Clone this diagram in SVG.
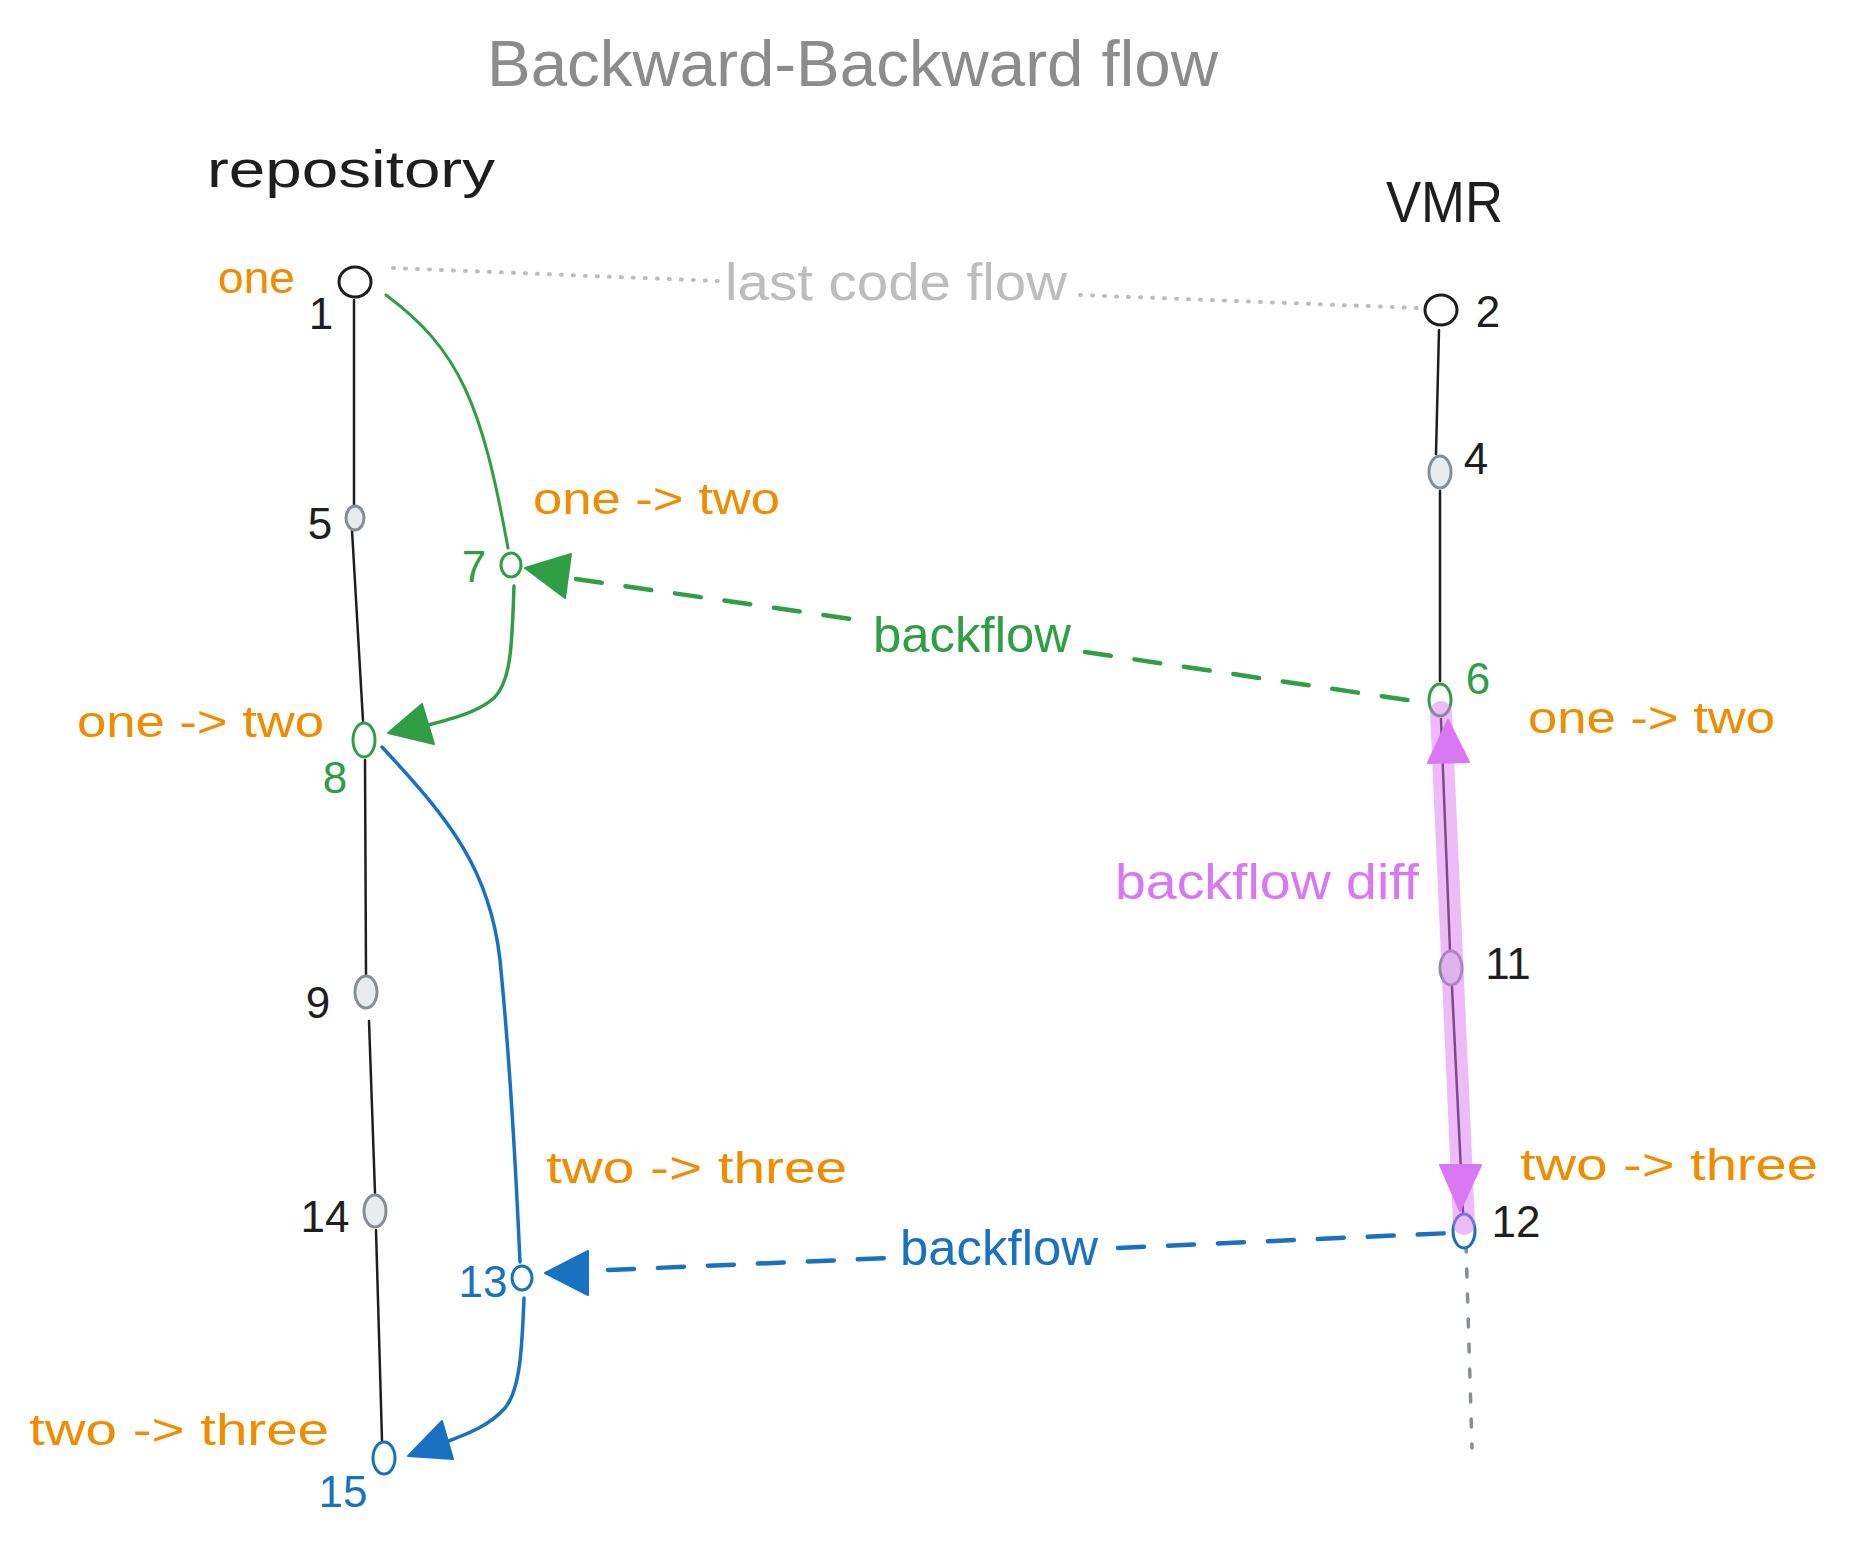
<svg xmlns="http://www.w3.org/2000/svg" width="1849" height="1550" viewBox="0 0 1849 1550">
<style>
text{font-family:"Liberation Sans","DejaVu Sans",sans-serif;}
.t{fill:#1e1e1e;}
.o{fill:#f08c00;font-size:44px;}
.g{fill:#2f9e44;}
.b{fill:#1971c2;}
.m{fill:#da77f2;}
.num{font-size:44px;text-anchor:middle;}
.trunk{stroke:#1e1e1e;stroke-width:2.5;fill:none;stroke-linecap:round;}
.nW{fill:#ffffff;stroke:#1e1e1e;stroke-width:3;}
.nG{fill:#e9ecef;stroke:#868e96;stroke-width:3;}
.nGr{fill:#ffffff;stroke:#2f9e44;stroke-width:3;}
.nB{fill:#ffffff;stroke:#1971c2;stroke-width:3;}
</style>
<rect width="1849" height="1550" fill="#ffffff"/>

<g id="title">
<text x="487" y="86" font-size="65" fill="#8c8c8c" textLength="731" lengthAdjust="spacingAndGlyphs">Backward-Backward flow</text>
</g>
<g id="label-repository"><text class="t" x="207" y="187" font-size="52" textLength="288" lengthAdjust="spacingAndGlyphs">repository</text></g>
<g id="label-vmr"><text class="t" x="1386" y="222" font-size="58" textLength="117" lengthAdjust="spacingAndGlyphs">VMR</text></g>

<g id="connectors">
<!-- repository trunk -->
<line class="trunk" x1="354" y1="300" x2="354" y2="505"/>
<line class="trunk" x1="352" y1="530" x2="363" y2="721"/>
<line class="trunk" x1="365" y1="760" x2="366" y2="974"/>
<line class="trunk" x1="369" y1="1021" x2="375" y2="1193"/>
<line class="trunk" x1="376" y1="1230" x2="382" y2="1440"/>
<!-- VMR trunk -->
<line class="trunk" x1="1439" y1="330" x2="1436" y2="454"/>
<line class="trunk" x1="1440" y1="491" x2="1440" y2="681"/>
<line class="trunk" x1="1441" y1="719" x2="1450" y2="950"/>
<line class="trunk" x1="1452" y1="987" x2="1463" y2="1212"/>
<!-- last code flow dotted -->
<line x1="393" y1="268" x2="718" y2="281" stroke="#bdbdbd" stroke-width="4" stroke-dasharray="1 11" stroke-linecap="round"/>
<line x1="1080" y1="295" x2="1418" y2="308" stroke="#bdbdbd" stroke-width="4" stroke-dasharray="1 11" stroke-linecap="round"/>
<!-- VMR continuation dotted -->
<line x1="1466" y1="1244" x2="1472" y2="1448" stroke="#868e96" stroke-width="3.5" stroke-dasharray="8 17" stroke-linecap="round"/>
<!-- green curve 1 -> 7 -->
<path d="M386,295 C460,350 482,405 508,548" fill="none" stroke="#2f9e44" stroke-width="3" stroke-linecap="round"/>
<!-- green curve 7 -> 8 -->
<path d="M514,586 C512,640 512,680 494,698 C478,712 455,718 428,725" fill="none" stroke="#2f9e44" stroke-width="3.5" stroke-linecap="round"/>
<polygon points="388,733 422,704 434,744" fill="#2f9e44" stroke="#2f9e44" stroke-width="2" stroke-linejoin="round"/>
<!-- green dashed backflow 6 -> 7 -->
<line x1="576" y1="579" x2="865" y2="621" stroke="#2f9e44" stroke-width="4.5" stroke-dasharray="26 24" stroke-linecap="round"/>
<line x1="1085" y1="652" x2="1421" y2="702" stroke="#2f9e44" stroke-width="4.5" stroke-dasharray="26 24" stroke-linecap="round"/>
<polygon points="525,568 571,554 565,598" fill="#2f9e44" stroke="#2f9e44" stroke-width="2" stroke-linejoin="round"/>
<!-- blue curve 8 -> 13 -->
<path d="M382,747 C450,820 490,870 500,960 C508,1040 515,1150 520,1262" fill="none" stroke="#1971c2" stroke-width="3.5" stroke-linecap="round"/>
<!-- blue curve 13 -> 15 -->
<path d="M524,1298 C522,1350 520,1390 505,1408 C490,1425 470,1433 446,1442" fill="none" stroke="#1971c2" stroke-width="3.5" stroke-linecap="round"/>
<polygon points="408,1456 442,1421 453,1459" fill="#1971c2" stroke="#1971c2" stroke-width="2" stroke-linejoin="round"/>
<!-- blue dashed backflow 12 -> 13 -->
<line x1="608" y1="1270" x2="890" y2="1258" stroke="#1971c2" stroke-width="4.5" stroke-dasharray="26 24" stroke-linecap="round"/>
<line x1="1118" y1="1248" x2="1452" y2="1233" stroke="#1971c2" stroke-width="4.5" stroke-dasharray="26 24" stroke-linecap="round"/>
<polygon points="545,1273 588,1251 588,1295" fill="#1971c2" stroke="#1971c2" stroke-width="2" stroke-linejoin="round"/>
</g>

<g id="nodes">
<g id="node-1"><ellipse class="nW" cx="355" cy="282" rx="16" ry="15"/></g>
<g id="node-2"><ellipse class="nW" cx="1441" cy="310" rx="16" ry="15"/></g>
<g id="node-5"><ellipse class="nG" cx="355" cy="518" rx="9" ry="12"/></g>
<g id="node-4"><ellipse class="nG" cx="1440" cy="472" rx="11" ry="16"/></g>
<g id="node-7"><ellipse class="nGr" cx="511" cy="565" rx="10" ry="12"/></g>
<g id="node-6"><ellipse class="nGr" cx="1440" cy="700" rx="11" ry="16"/></g>
<g id="node-8"><ellipse class="nGr" cx="364" cy="740" rx="11" ry="17"/></g>
<g id="node-11"><ellipse class="nG" cx="1451" cy="968" rx="11" ry="17"/></g>
<g id="node-9"><ellipse class="nG" cx="366" cy="992" rx="11" ry="16"/></g>
<g id="node-14"><ellipse class="nG" cx="375" cy="1211" rx="11" ry="16"/></g>
<g id="node-12"><ellipse class="nB" cx="1464" cy="1231" rx="11" ry="17"/></g>
<g id="node-13"><ellipse class="nB" cx="522" cy="1278" rx="10" ry="12"/></g>
<g id="node-15"><ellipse class="nB" cx="384" cy="1458" rx="11" ry="16"/></g>
</g>

<!-- backflow diff highlight -->
<g id="backflow-diff">
<line x1="1441" y1="712" x2="1464" y2="1224" stroke="#da77f2" stroke-opacity="0.5" stroke-width="22" stroke-linecap="round"/>
<polygon points="1448,720 1428,763 1469,762" fill="#da77f2" stroke="#da77f2" stroke-width="2" stroke-linejoin="round"/>
<polygon points="1460,1211 1440,1165 1481,1165" fill="#da77f2" stroke="#da77f2" stroke-width="2" stroke-linejoin="round"/>
</g>

<g id="labels">
<text class="o" x="218" y="293" font-size="46" textLength="77" lengthAdjust="spacingAndGlyphs">one</text>
<text class="t num" x="321" y="329">1</text>
<text class="t num" x="1488" y="327">2</text>
<text x="725" y="300" font-size="52" fill="#bdbdbd" textLength="342" lengthAdjust="spacingAndGlyphs">last code flow</text>
<text class="t num" x="320" y="539">5</text>
<text class="g num" x="474" y="582">7</text>
<text class="g num" x="335" y="793">8</text>
<text class="o" x="533" y="514" textLength="247" lengthAdjust="spacingAndGlyphs">one -&gt; two</text>
<text class="o" x="77" y="737" textLength="247" lengthAdjust="spacingAndGlyphs">one -&gt; two</text>
<text class="g" x="873" y="652" font-size="50" textLength="198" lengthAdjust="spacingAndGlyphs">backflow</text>
<text class="t num" x="1476" y="474">4</text>
<text class="g num" x="1478" y="694">6</text>
<text class="o" x="1528" y="733" textLength="247" lengthAdjust="spacingAndGlyphs">one -&gt; two</text>
<text class="m" x="1115" y="899" font-size="50" textLength="304" lengthAdjust="spacingAndGlyphs">backflow diff</text>
<text class="t num" x="1508" y="979">11</text>
<text class="t num" x="318" y="1018">9</text>
<text class="t num" x="325" y="1232">14</text>
<text class="o" x="546" y="1183" textLength="301" lengthAdjust="spacingAndGlyphs">two -&gt; three</text>
<text class="b num" x="483" y="1297">13</text>
<text class="b" x="900" y="1265" font-size="50" textLength="198" lengthAdjust="spacingAndGlyphs">backflow</text>
<text class="t num" x="1516" y="1237">12</text>
<text class="o" x="1520" y="1180" textLength="298" lengthAdjust="spacingAndGlyphs">two -&gt; three</text>
<text class="o" x="29" y="1445" textLength="300" lengthAdjust="spacingAndGlyphs">two -&gt; three</text>
<text class="b num" x="343" y="1507">15</text>
</g>
</svg>
